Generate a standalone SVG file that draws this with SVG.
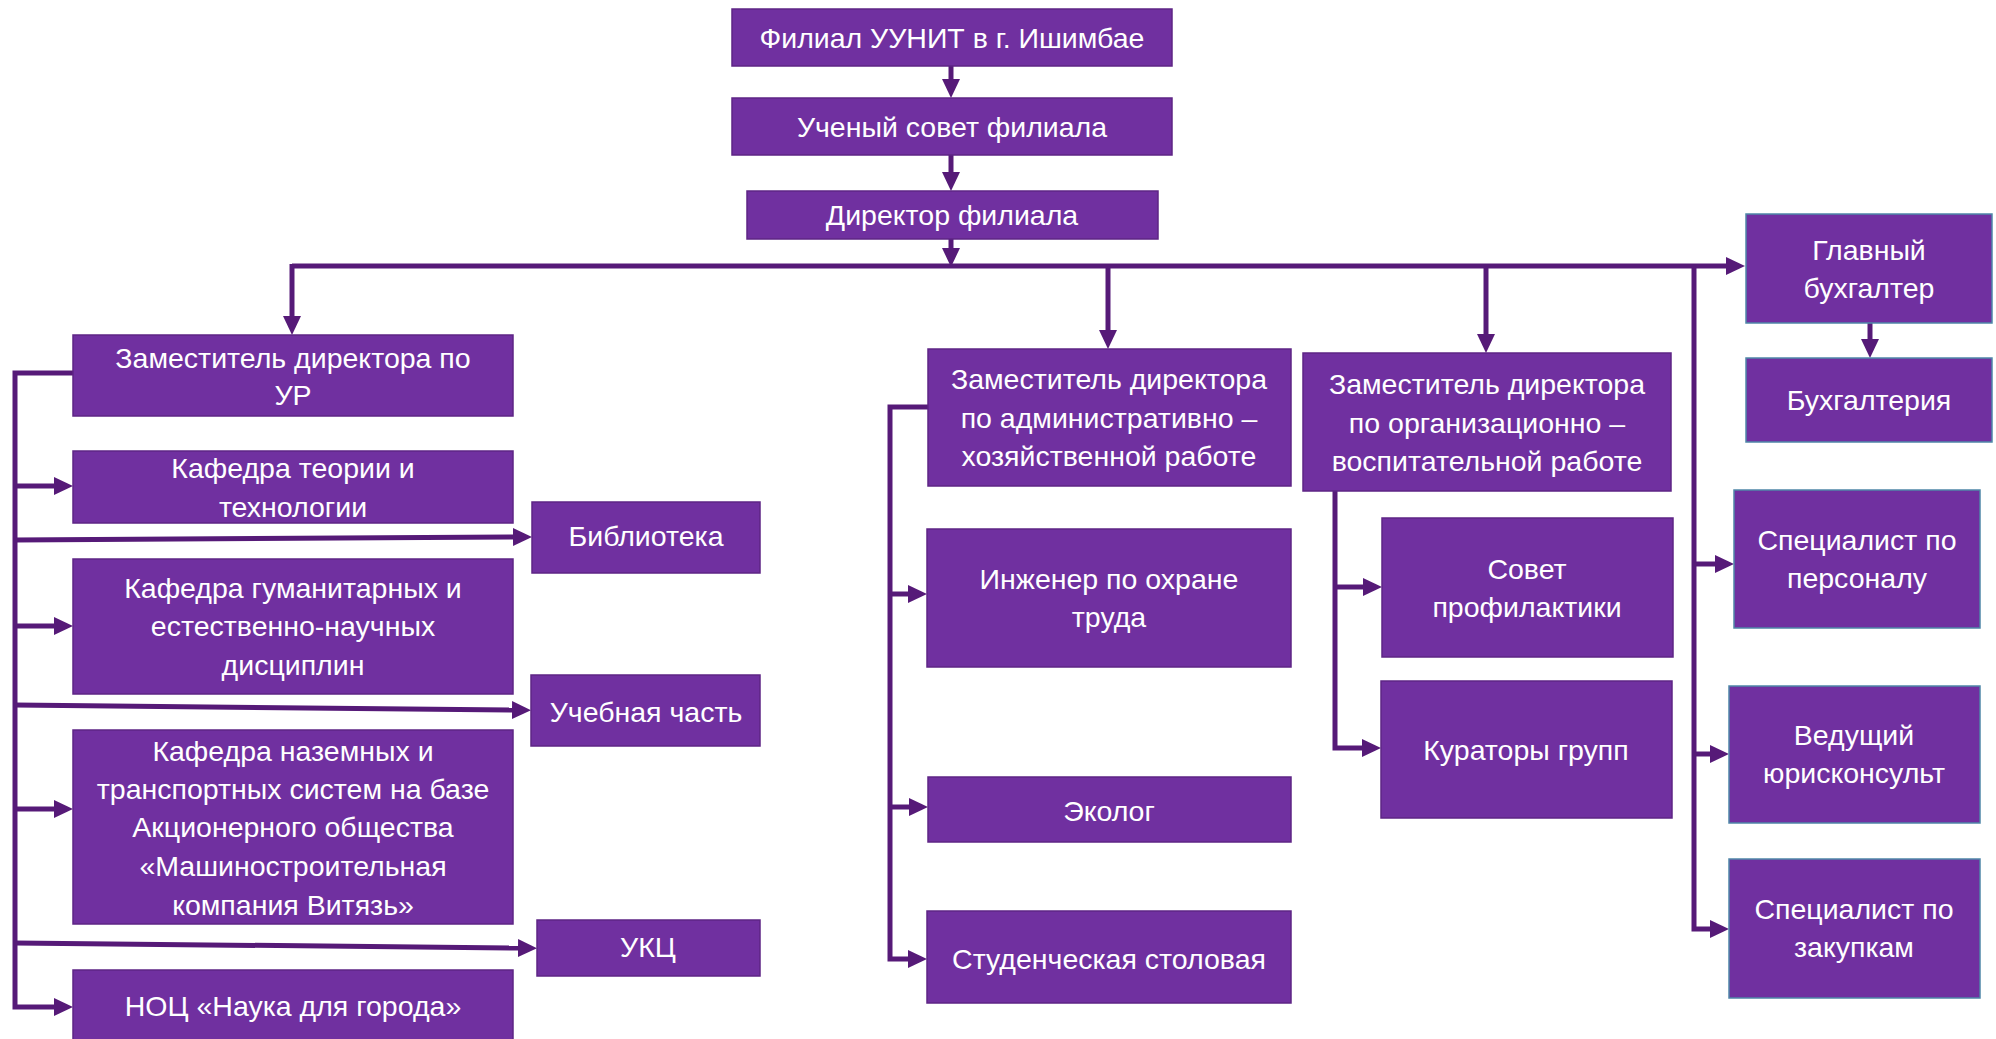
<svg xmlns="http://www.w3.org/2000/svg" width="1996" height="1039" viewBox="0 0 1996 1039">
<defs>
<style>
.n rect{fill:#7030A0;stroke:#5E2585;stroke-width:1.5}
.b rect{fill:#7030A0;stroke:#4F86A8;stroke-width:1.5}
text{font-family:"Liberation Sans",Arial,sans-serif;font-size:28.5px;fill:#FFFFFF;text-anchor:middle;dominant-baseline:central}
.c line,.c polyline{stroke:#561A78;stroke-width:5;fill:none}
</style>
<marker id="ah" markerWidth="20" markerHeight="20" refX="1" refY="10" orient="auto" markerUnits="userSpaceOnUse"><path d="M0,1 L19,10 L0,19 z" fill="#561A78"/></marker>
</defs>
<rect width="1996" height="1039" fill="#FFFFFF"/>
<g class="c" id="connectors">
<line x1="951" y1="66" x2="951" y2="80" marker-end="url(#ah)"/>
<line x1="951" y1="155" x2="951" y2="173" marker-end="url(#ah)"/>
<line x1="951" y1="239" x2="951" y2="249" marker-end="url(#ah)"/>
<polyline points="292,266 1727,266" marker-end="url(#ah)"/>
<line x1="292" y1="264" x2="292" y2="317" marker-end="url(#ah)"/>
<line x1="1108" y1="266" x2="1108" y2="331" marker-end="url(#ah)"/>
<line x1="1486" y1="266" x2="1486" y2="335" marker-end="url(#ah)"/>
<line x1="1870" y1="323" x2="1870" y2="340" marker-end="url(#ah)"/>
<polyline points="1694,266 1694,929 1711,929" marker-end="url(#ah)"/>
<line x1="1694" y1="564" x2="1716" y2="564" marker-end="url(#ah)"/>
<line x1="1694" y1="754" x2="1711" y2="754" marker-end="url(#ah)"/>
<polyline points="73,373 15,373 15,1007 55,1007" marker-end="url(#ah)"/>
<line x1="15" y1="486" x2="55" y2="486" marker-end="url(#ah)"/>
<line x1="15" y1="540" x2="514" y2="537" marker-end="url(#ah)"/>
<line x1="15" y1="626" x2="55" y2="626" marker-end="url(#ah)"/>
<line x1="15" y1="705" x2="513" y2="710" marker-end="url(#ah)"/>
<line x1="15" y1="809" x2="55" y2="809" marker-end="url(#ah)"/>
<line x1="15" y1="943" x2="519" y2="948" marker-end="url(#ah)"/>
<polyline points="928,407 890,407 890,959 909,959" marker-end="url(#ah)"/>
<line x1="890" y1="594" x2="909" y2="594" marker-end="url(#ah)"/>
<line x1="890" y1="807" x2="910" y2="807" marker-end="url(#ah)"/>
<polyline points="1335,480 1335,748 1363,748" marker-end="url(#ah)"/>
<line x1="1335" y1="587" x2="1364" y2="587" marker-end="url(#ah)"/>
</g>
<g class="n" id="filial"><rect x="732" y="9" width="440" height="57"/><text x="952" y="38">Филиал УУНИТ в г. Ишимбае</text></g>
<g class="n" id="sovet"><rect x="732" y="98" width="440" height="57"/><text x="952" y="127">Ученый совет филиала</text></g>
<g class="n" id="director"><rect x="747" y="191" width="411" height="48"/><text x="952" y="215">Директор филиала</text></g>
<g class="n" id="zam-ur"><rect x="73" y="335" width="440" height="81"/><text x="293" y="358">Заместитель директора по</text><text x="293" y="395">УР</text></g>
<g class="n" id="kaf-teor"><rect x="73" y="451" width="440" height="72"/><text x="293" y="468">Кафедра теории и</text><text x="293" y="507">технологии</text></g>
<g class="n" id="biblioteka"><rect x="532" y="502" width="228" height="71"/><text x="646" y="536">Библиотека</text></g>
<g class="n" id="kaf-gum"><rect x="73" y="559" width="440" height="135"/><text x="293" y="588">Кафедра гуманитарных и</text><text x="293" y="626">естественно-научных</text><text x="293" y="665">дисциплин</text></g>
<g class="n" id="uchebnaya"><rect x="531" y="675" width="229" height="71"/><text x="646" y="712">Учебная часть</text></g>
<g class="n" id="kaf-naz"><rect x="73" y="730" width="440" height="194"/><text x="293" y="751">Кафедра наземных и</text><text x="293" y="789">транспортных систем на базе</text><text x="293" y="827">Акционерного общества</text><text x="293" y="866">«Машиностроительная</text><text x="293" y="905">компания Витязь»</text></g>
<g class="n" id="ukc"><rect x="537" y="920" width="223" height="56"/><text x="648" y="947">УКЦ</text></g>
<g class="n" id="noc"><rect x="73" y="970" width="440" height="80"/><text x="293" y="1006">НОЦ «Наука для города»</text></g>
<g class="n" id="zam-ahd"><rect x="928" y="349" width="363" height="137"/><text x="1109" y="379">Заместитель директора</text><text x="1109" y="418">по административно –</text><text x="1109" y="456">хозяйственной работе</text></g>
<g class="n" id="inzhener"><rect x="927" y="529" width="364" height="138"/><text x="1109" y="579">Инженер по охране</text><text x="1109" y="617">труда</text></g>
<g class="n" id="ekolog"><rect x="928" y="777" width="363" height="65"/><text x="1109" y="811">Эколог</text></g>
<g class="n" id="stolovaya"><rect x="927" y="911" width="364" height="92"/><text x="1109" y="959">Студенческая столовая</text></g>
<g class="n" id="zam-ovr"><rect x="1303" y="353" width="368" height="138"/><text x="1487" y="384">Заместитель директора</text><text x="1487" y="423">по организационно –</text><text x="1487" y="461">воспитательной работе</text></g>
<g class="n" id="sovet-prof"><rect x="1382" y="518" width="291" height="139"/><text x="1527" y="569">Совет</text><text x="1527" y="607">профилактики</text></g>
<g class="n" id="kuratory"><rect x="1381" y="681" width="291" height="137"/><text x="1526" y="750">Кураторы групп</text></g>
<g class="b" id="gl-buh"><rect x="1746" y="214" width="246" height="109"/><text x="1869" y="250">Главный</text><text x="1869" y="288">бухгалтер</text></g>
<g class="b" id="buhgalteriya"><rect x="1746" y="358" width="246" height="84"/><text x="1869" y="400">Бухгалтерия</text></g>
<g class="b" id="spec-pers"><rect x="1734" y="490" width="246" height="138"/><text x="1857" y="540">Специалист по</text><text x="1857" y="578">персоналу</text></g>
<g class="b" id="yurist"><rect x="1729" y="686" width="251" height="137"/><text x="1854" y="735">Ведущий</text><text x="1854" y="773">юрисконсульт</text></g>
<g class="b" id="spec-zak"><rect x="1729" y="859" width="251" height="139"/><text x="1854" y="909">Специалист по</text><text x="1854" y="947">закупкам</text></g>
</svg>
